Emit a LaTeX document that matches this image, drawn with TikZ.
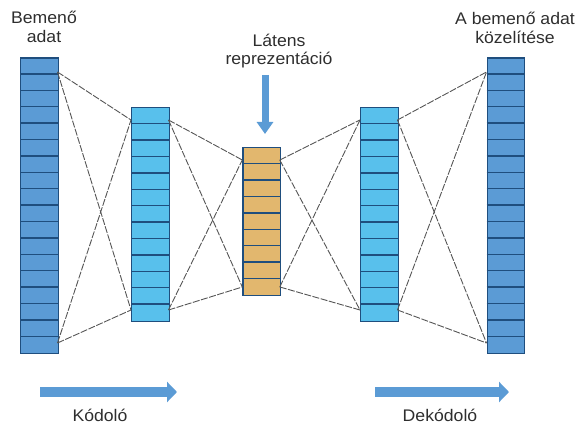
\documentclass[tikz,border=0pt]{standalone}
\usepackage{fontspec}
\setmainfont{Liberation Sans}[FakeStretch=1.05]
\usetikzlibrary{arrows.meta,calc}
\definecolor{bluedark}{HTML}{5B9BD5}
\definecolor{bluelight}{HTML}{58C0EC}
\definecolor{tan}{HTML}{E2B76E}
\definecolor{edge}{HTML}{1F4E7E}
\definecolor{arrowblue}{HTML}{5B9BD5}
\definecolor{linkgray}{HTML}{555555}
\begin{document}
\begin{tikzpicture}[x=1pt,y=-1pt,
  layer/.style={draw=edge,line width=1.2pt,rectangle,inner sep=0pt,anchor=north west,minimum width=37.5pt},
  link/.style={draw=linkgray,line width=0.9pt,dash pattern=on 7pt off 1.5pt},
  label/.style={font=\fontsize{16.8}{18.5}\selectfont,text=black!82,align=center,inner sep=0pt},
  flow/.style={draw=arrowblue,line width=10pt,-{Triangle[length=10pt,width=20pt]}},
  down/.style={draw=arrowblue,line width=7pt,-{Triangle[length=12pt,width=16pt]}}]
\useasboundingbox (0,0) rectangle (579,425);
% layers
\node[layer,fill=bluedark,minimum height=295.2pt] (c1) at (20,57.5) {};
\node[layer,fill=bluelight,minimum height=213.2pt] (c2) at (131,107.3) {};
\node[layer,fill=tan,minimum height=147.6pt] (c3) at (242.3,147.3) {};
\node[layer,fill=bluelight,minimum height=213.2pt] (c4) at (360,107.3) {};
\node[layer,fill=bluedark,minimum height=295.2pt] (c5) at (486.5,57.5) {};
% separators
\foreach \n/\k in {c1/17,c2/12,c3/8,c4/12,c5/17}{
  \foreach \i in {1,...,\k}{
    \draw[edge,line width=1.4pt] ($(\n.north west)+(0,\i*16.4)$) -- ($(\n.north east)+(0,\i*16.4)$);
  }
}
% attach points
\coordinate (c1rt) at (57.5,72);  \coordinate (c1rb) at (57.5,343);
\coordinate (c2lt) at (131,120); \coordinate (c2lb) at (131,310);
\coordinate (c2rt) at (168.5,120); \coordinate (c2rb) at (168.5,310);
\coordinate (c3lt) at (242.3,160); \coordinate (c3lb) at (242.3,287);
\coordinate (c3rt) at (279.8,160); \coordinate (c3rb) at (279.8,287);
\coordinate (c4lt) at (360,120); \coordinate (c4lb) at (360,310);
\coordinate (c4rt) at (397.5,120); \coordinate (c4rb) at (397.5,310);
\coordinate (c5lt) at (486.5,72); \coordinate (c5lb) at (486.5,343);
% links
\foreach \a/\b in {c1r/c2l,c2r/c3l,c3r/c4l,c4r/c5l}{
  \draw[link] (\a t) -- (\b t);
  \draw[link] (\a t) -- (\b b);
  \draw[link] (\a b) -- (\b t);
  \draw[link] (\a b) -- (\b b);
}
% arrows
\coordinate (ka) at (40,392); \coordinate (kb) at (177,392);
\coordinate (da) at (375,392); \coordinate (db) at (509,392);
\coordinate (la) at (265,75); \coordinate (lb) at (265,134);
\draw[flow] (ka) -- (kb);
\draw[flow] (da) -- (db);
\draw[down] (la) -- (lb);
% labels
\node[label] (tin) at (44,27) {Bemenő\\adat};
\node[label] (tlat) at (279,51) {Látens\\reprezentáció};
\node[label] (tout) at (515,28) {A bemenő adat\\közelítése};
\node[label] (tenc) at (100,415) {Kódoló};
\node[label] (tdec) at (440,415) {Dekódoló};
\end{tikzpicture}
\end{document}
